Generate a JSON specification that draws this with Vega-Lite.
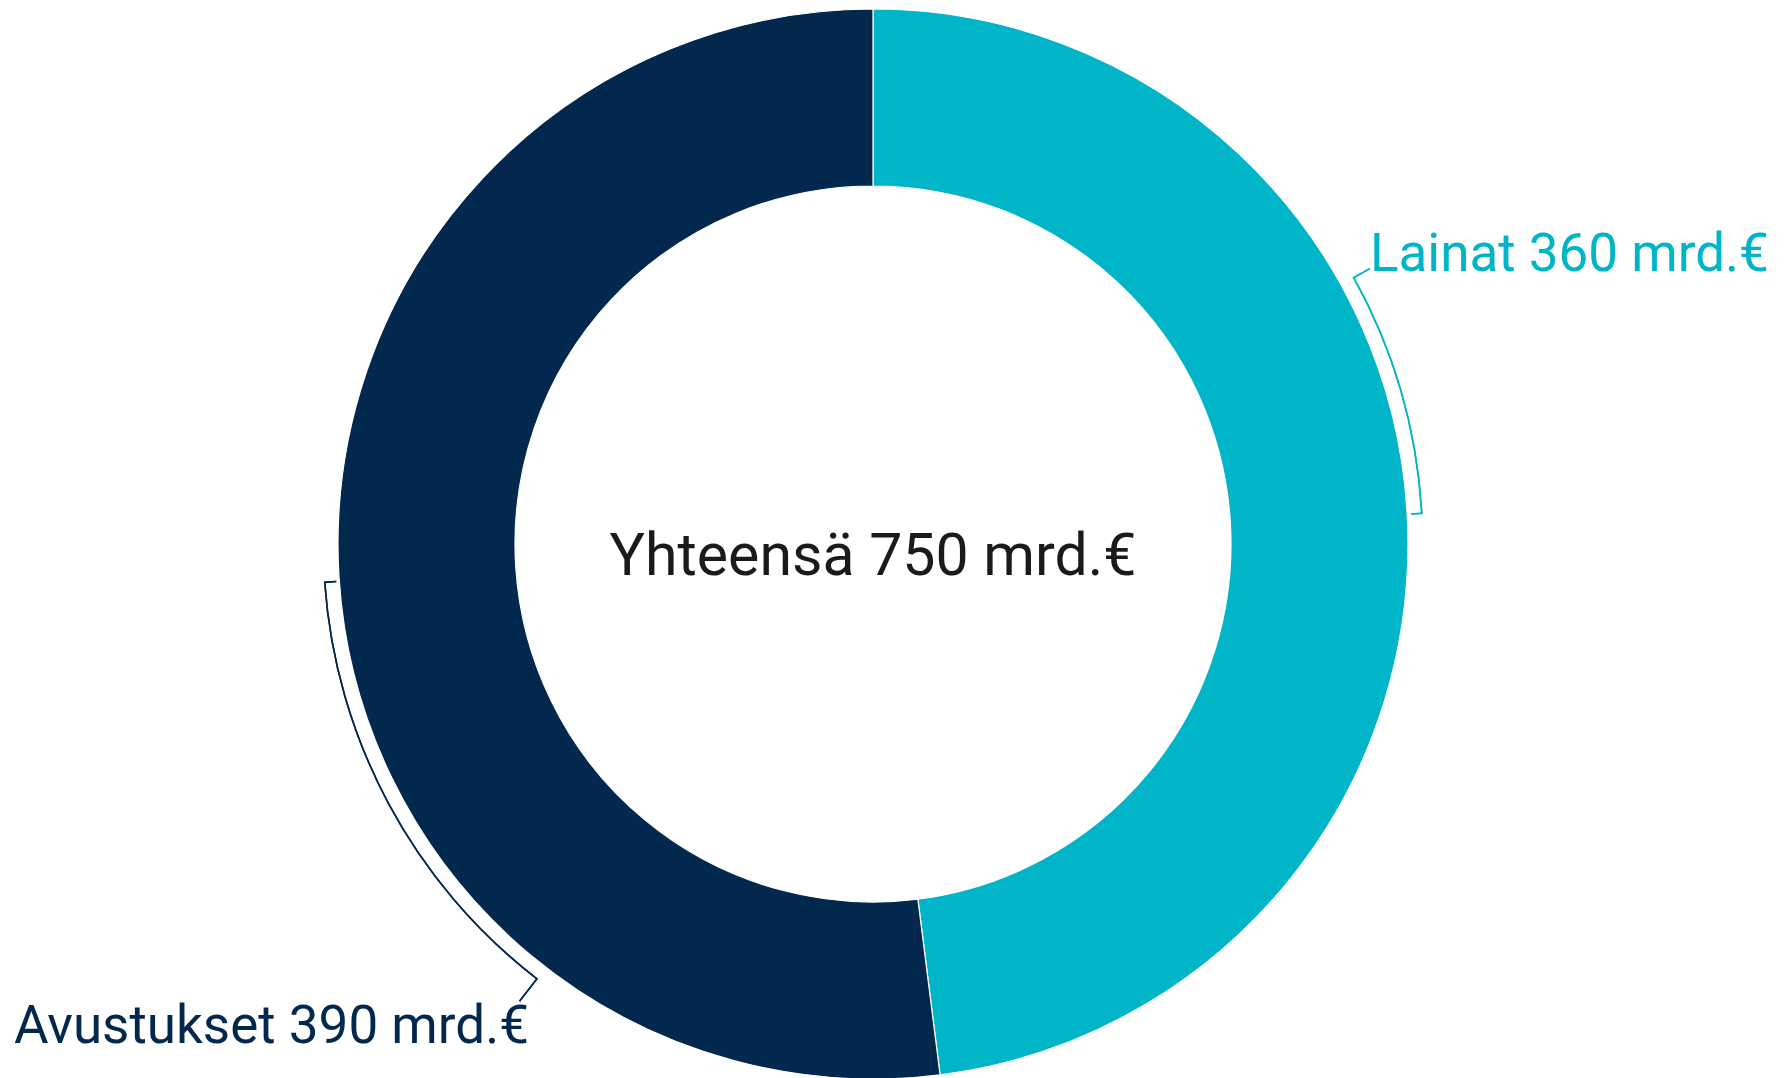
{
  "$schema": "https://vega.github.io/schema/vega-lite/v6.json",
  "width": 1746,
  "height": 1068,
  "autosize": {"type": "none"},
  "padding": {"left": 0, "top": 10, "right": 42, "bottom": 0},
  "background": "#ffffff",
  "config": {"view": {"stroke": null}},
  "data": {
    "values": [
      {"type": "Lainat", "value": 360, "label": "Lainat 360 mrd.€"},
      {"type": "Avustukset", "value": 390, "label": "Avustukset 390 mrd.€"}
    ]
  },
  "layer": [
    {
      "mark": {"type": "arc", "innerRadius": 358, "outerRadius": 535, "stroke": "#ffffff", "strokeWidth": 1.2},
      "encoding": {
        "theta": {"field": "value", "type": "quantitative", "stack": true},
        "order": {"field": "value", "sort": "ascending"},
        "color": {
          "field": "type",
          "type": "nominal",
          "scale": {"domain": ["Lainat", "Avustukset"], "range": ["#00B5C8", "#02284E"]},
          "legend": null
        }
      }
    },
    {
      "mark": {"type": "arc", "theta": 1.0647, "theta2": 1.5149, "innerRadius": 548.8, "outerRadius": 550.4, "color": "#00B5C8"},
      "encoding": {}
    },
    {
      "mark": {"type": "arc", "theta": 1.5135, "theta2": 1.5163, "innerRadius": 539, "outerRadius": 550.4, "color": "#00B5C8"},
      "encoding": {}
    },
    {
      "mark": {"type": "arc", "theta": 1.0633, "theta2": 1.0661, "innerRadius": 548.8, "outerRadius": 568, "color": "#00B5C8"},
      "encoding": {}
    },
    {
      "mark": {"type": "arc", "theta": 3.7996, "theta2": 4.6426, "innerRadius": 548.8, "outerRadius": 550.4, "color": "#02284E"},
      "encoding": {}
    },
    {
      "mark": {"type": "arc", "theta": 4.6412, "theta2": 4.644, "innerRadius": 538, "outerRadius": 550.4, "color": "#02284E"},
      "encoding": {}
    },
    {
      "mark": {"type": "arc", "theta": 3.7982, "theta2": 3.801, "innerRadius": 548.8, "outerRadius": 578, "color": "#02284E"},
      "encoding": {}
    },
    {
      "transform": [{"filter": "datum.type === 'Lainat'"}],
      "mark": {"type": "text", "theta": 1.0682, "radius": 567, "align": "left", "baseline": "alphabetic", "font": "Roboto", "fontSize": 53, "color": "#00B5C8"},
      "encoding": {"text": {"field": "label"}}
    },
    {
      "transform": [{"filter": "datum.type === 'Avustukset'"}],
      "mark": {"type": "text", "theta": 3.7454, "radius": 606, "align": "right", "baseline": "alphabetic", "font": "Roboto", "fontSize": 53, "color": "#02284E"},
      "encoding": {"text": {"field": "label"}}
    },
    {
      "transform": [{"aggregate": [{"op": "sum", "field": "value", "as": "total"}]}, {"calculate": "'Yhteensä ' + datum.total + ' mrd.€'", "as": "centre"}],
      "mark": {"type": "text", "align": "center", "baseline": "alphabetic", "dy": 31, "font": "Roboto", "fontSize": 59, "color": "#1a1a1a"},
      "encoding": {"text": {"field": "centre"}}
    }
  ]
}
